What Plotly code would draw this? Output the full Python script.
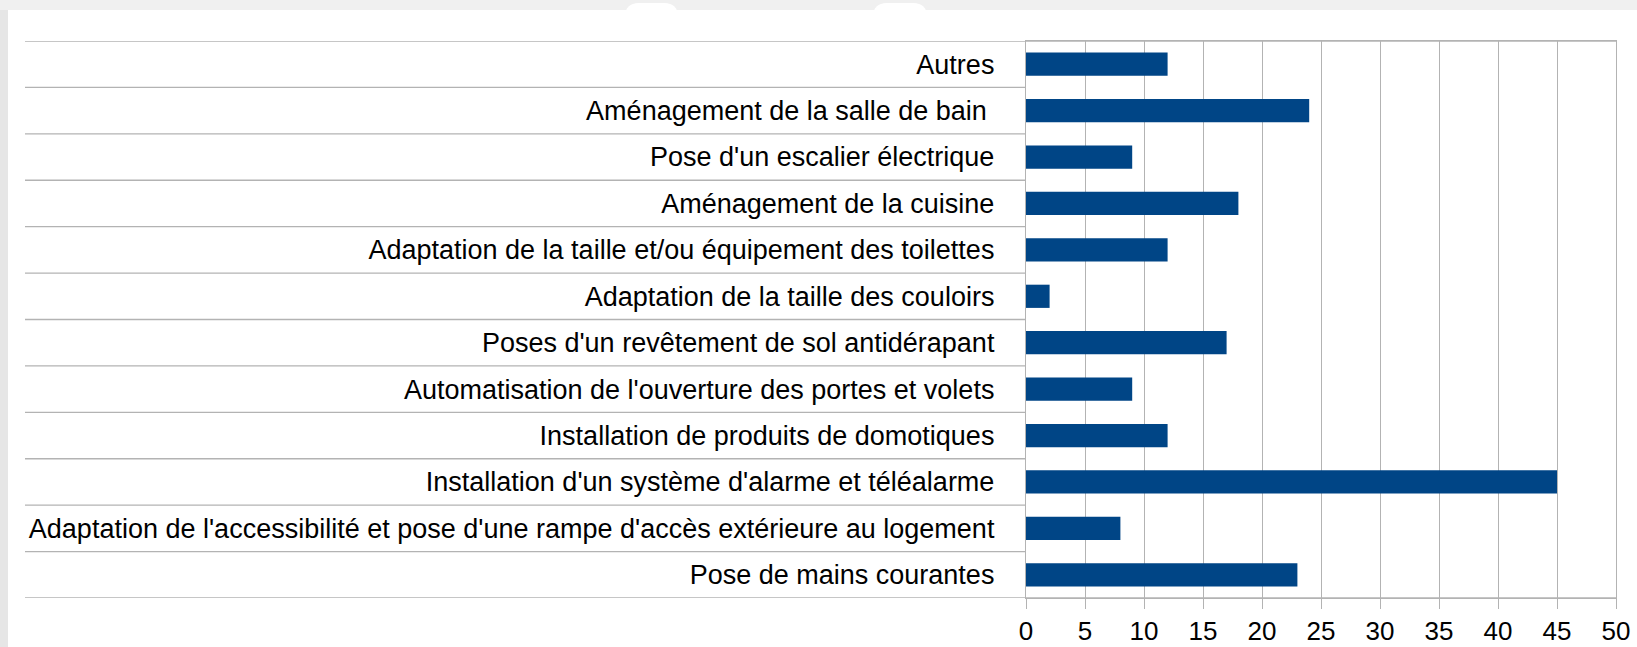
import plotly.graph_objects as go

categories = [
    "Autres",
    "Aménagement de la salle de bain ",
    "Pose d'un escalier électrique",
    "Aménagement de la cuisine",
    "Adaptation de la taille et/ou équipement des toilettes",
    "Adaptation de la taille des couloirs",
    "Poses d'un revêtement de sol antidérapant",
    "Automatisation de l'ouverture des portes et volets",
    "Installation de produits de domotiques",
    "Installation d'un système d'alarme et téléalarme",
    "Adaptation de l'accessibilité et pose d'une rampe d'accès extérieure au logement",
    "Pose de mains courantes",
]
values = [12, 24, 9, 18, 12, 2, 17, 9, 12, 45, 8, 23]
x_ticks = [0, 5, 10, 15, 20, 25, 30, 35, 40, 45, 50]

W, H = 1637, 647
L, R, T, B = 1026, 21, 41, 49
pw, ph = W - L - R, H - T - B

def px(xpix):
    return (xpix - L) / pw

def py(ypix):
    return 1 - (ypix - T) / ph

grid = "#b3b3b3"
font = "Liberation Sans, Arial, sans-serif"

fig = go.Figure(go.Bar(
    x=values, y=categories, orientation="h",
    marker=dict(color="#004586", line=dict(width=0)),
    width=0.5,
))

shapes = []
# white card
shapes.append(dict(type="rect", xref="paper", yref="paper", x0=px(8), x1=px(W + 5),
                   y0=py(H + 5), y1=py(10), fillcolor="white", line=dict(width=0), layer="below"))
# left strip
shapes.append(dict(type="rect", xref="paper", yref="paper", x0=px(-2), x1=px(8),
                   y0=py(H + 5), y1=py(10), fillcolor="#e6e6e6", line=dict(width=0), layer="below"))
# white rounded bumps at top
for a, b in [(625, 678), (873, 927)]:
    r = 14
    path = (f"M {px(a)},{py(11)} L {px(a)},{py(3 + r)} Q {px(a)},{py(3)} {px(a + r)},{py(3)} "
            f"L {px(b - r)},{py(3)} Q {px(b)},{py(3)} {px(b)},{py(3 + r)} L {px(b)},{py(11)} Z")
    shapes.append(dict(type="path", xref="paper", yref="paper", path=path,
                       fillcolor="white", line=dict(width=0), layer="below"))
# category separators extending left of axis
n = len(categories)
for i in range(n + 1):
    shapes.append(dict(type="line", xref="paper", yref="y", x0=px(25), x1=0 if 0 < i < n else 1,
                       y0=i - 0.5, y1=i - 0.5, line=dict(color=grid, width=1.4)))

fig.update_layout(
    width=W, height=H,
    margin=dict(l=L, r=R, t=T, b=B, autoexpand=False),
    paper_bgcolor="#f0f0f0",
    plot_bgcolor="rgba(0,0,0,0)",
    showlegend=False,
    shapes=shapes,
    font=dict(family=font, size=27, color="#000000"),
    xaxis=dict(
        range=[0, 50], tickvals=x_ticks, showgrid=True, gridcolor=grid, gridwidth=1.4,
        zeroline=False, showline=True, mirror=True, linecolor=grid, linewidth=1.4,
        ticks="outside", ticklen=10, tickcolor=grid, tickwidth=1.4,
        tickfont=dict(size=26, family=font), fixedrange=True, automargin=False,
    ),
    yaxis=dict(
        range=[n - 0.5, -0.5], categoryorder="array", categoryarray=categories,
        showgrid=False, zeroline=False, showline=True, mirror=True, linecolor=grid, linewidth=1.4,
        ticks="", ticklabelstandoff=25, tickfont=dict(size=27, family=font), automargin=False,
    ),
    bargap=0.5,
)

fig.write_html(
    "out.html",
    config={"displayModeBar": False},
    post_script="document.body.style.margin='0';document.body.style.background='#f0f0f0';document.body.style.overflow='hidden';",
)
